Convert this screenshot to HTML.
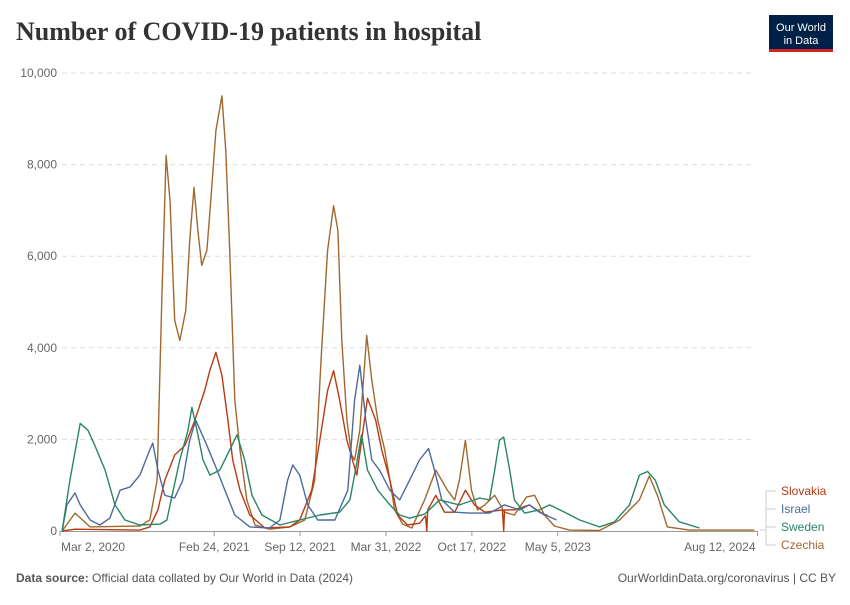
<!DOCTYPE html>
<html><head><meta charset="utf-8"><style>
body{margin:0;background:#fff;width:850px;height:600px;overflow:hidden;font-family:"Liberation Sans",sans-serif}
svg text{font-family:"Liberation Sans",sans-serif}
</style></head><body>
<svg id="c" width="850" height="600">
<text x="16" y="40" font-weight="bold" font-size="26" fill="#333" style="font-family:'Liberation Serif',serif">Number of COVID-19 patients in hospital</text>
<g>
<rect x="769" y="15" width="64" height="37" fill="#002147"/>
<rect x="769" y="49" width="64" height="3" fill="#ce261e"/>
<text x="801" y="31" fill="#fff" font-size="11" text-anchor="middle">Our World</text>
<text x="801" y="44" fill="#fff" font-size="11" text-anchor="middle">in Data</text>
</g>
<g id="grid"></g>
<g id="series"></g>
<g id="legend"></g>
<text x="16" y="582" font-size="12" fill="#555"><tspan font-weight="bold">Data source:</tspan> Official data collated by Our World in Data (2024)</text>
<text x="836" y="582" font-size="12" fill="#555" text-anchor="end">OurWorldinData.org/coronavirus | CC BY</text>
</svg>
<script>
const yTicks=[0,2000,4000,6000,8000,10000];
const yTickLabels=["0","2,000","4,000","6,000","8,000","10,000"];
const xTickDays=[0,359,559,759,959,1159,1624];
const xTickLabels=["Mar 2, 2020","Feb 24, 2021","Sep 12, 2021","Mar 31, 2022","Oct 17, 2022","May 5, 2023","Aug 12, 2024"];
const seriesNames=["Slovakia","Israel","Sweden","Czechia"];
const slovakiaDays=[5,35,186,209,228,244,267,291,314,337,349,363,377,391,402,419,442,477,535,558,586,605,623,637,651,668,691,716,735,749,768,786,809,837,851,854,856,875,895,919,944,965,989,1030,1033,1035,1058,1093,1128,1135];
const slovakiaValues=[0,40,20,90,460,1110,1660,1870,2420,3070,3510,3900,3400,2420,1550,890,350,65,90,240,890,1980,3070,3500,2860,1980,1220,2900,2420,1770,1110,350,130,170,330,0,460,780,410,410,890,570,410,460,0,460,460,570,350,350];
const israelDays=[5,16,35,47,70,93,116,140,163,186,209,216,228,244,267,286,302,316,337,361,384,407,442,488,512,530,542,558,577,600,640,670,686,698,712,726,744,768,791,814,837,858,872,889,919,954,1000,1035,1070,1093,1116,1156];
const israelValues=[0,570,830,570,240,130,280,890,960,1220,1770,1920,1330,780,720,1110,1980,2420,1980,1440,890,350,90,65,240,1110,1440,1220,570,240,240,890,2860,3620,2420,1550,1330,890,680,1110,1550,1800,1330,680,410,390,390,570,460,570,410,240];
const swedenDays=[5,23,47,65,81,105,128,151,186,233,249,261,279,298,307,319,333,349,372,395,412,430,447,470,512,558,605,651,675,688,702,716,740,768,791,814,849,884,930,977,1000,1012,1023,1033,1047,1058,1082,1116,1140,1175,1210,1256,1291,1326,1349,1368,1386,1407,1442,1489];
const swedenValues=[0,1110,2350,2200,1870,1330,570,240,130,150,240,780,1550,2200,2700,2200,1550,1220,1330,1770,2100,1550,780,350,130,240,350,410,680,1330,2100,1330,890,570,350,280,370,680,570,720,680,1330,1980,2050,1330,680,390,460,570,410,240,90,200,570,1220,1300,1110,570,200,65];
const czechiaDays=[5,35,70,186,209,226,237,247,256,267,279,293,302,312,321,330,342,351,363,377,386,395,407,419,435,454,488,535,570,593,609,623,637,647,656,668,679,686,698,714,726,740,756,768,779,798,819,849,875,902,919,930,944,958,972,989,1012,1035,1058,1086,1105,1128,1151,1186,1256,1303,1349,1372,1391,1414,1465,1617];
const czechiaValues=[0,390,90,110,240,1110,5040,8200,7220,4600,4160,4820,6340,7500,6560,5800,6130,7220,8740,9500,8300,6130,2860,1770,680,130,40,90,240,1110,3950,6130,7100,6560,4160,2420,1660,1550,2200,4270,3290,2420,1770,1110,460,150,65,680,1330,890,680,1110,1980,890,460,570,780,410,350,740,780,350,110,20,10,240,680,1200,780,90,20,20];

const NS="http://www.w3.org/2000/svg";
const x0=60,pxPerDay=0.4295,yBase=531,pxPerUnit=0.0458;
const xs=d=>x0+d*pxPerDay, ys=v=>yBase-v*pxPerUnit;
function mk(t,a,p){const e=document.createElementNS(NS,t);for(const k in a)e.setAttribute(k,a[k]);p.appendChild(e);return e;}
const grid=document.getElementById('grid');
yTicks.forEach((v,i)=>{
  if(v>0){const l=mk('line',{x1:62,x2:755,y1:ys(v),y2:ys(v),stroke:'#ddd','stroke-dasharray':'5,4'},grid);
  
  }
  const t=mk('text',{x:57,y:ys(v)+4,'font-size':12,fill:'#666','text-anchor':'end'},grid);t.textContent=yTickLabels[i];
  
  
});
const ax=mk('line',{x1:60,x2:757,y1:531.5,y2:531.5,stroke:'#999'},grid);


xTickDays.forEach((d,i)=>{
  const x=xs(d);mk('line',{x1:x,x2:x,y1:531,y2:536,stroke:'#999'},grid);
  let anchor='middle',tx=x;if(i===0){anchor='start';tx=x+1;}if(i===xTickDays.length-1){anchor='end';tx=x-2;}
  const t=mk('text',{x:tx,y:551,'font-size':12,fill:'#666','text-anchor':anchor},grid);t.textContent=xTickLabels[i];
  
  
});
const colors=["#b83a12","#4c6a9c","#2a8466","#a0682f"];
const allDays=[slovakiaDays,israelDays,swedenDays,czechiaDays];
const allVals=[slovakiaValues,israelValues,swedenValues,czechiaValues];
const sg=document.getElementById('series');
[3,0,1,2].forEach(i=>{
  const pts=allDays[i].map((d,j)=>xs(d).toFixed(1)+','+ys(allVals[i][j]).toFixed(1)).join(' ');
  const p=mk('polyline',{points:pts,fill:'none',stroke:colors[i],'stroke-width':1.4,'stroke-linejoin':'round'},sg);
  
  
});
const lg=document.getElementById('legend');
const ly=[491,509,527,545];
const ey=[530,530,530,530];
seriesNames.forEach((n,i)=>{
  const t=mk('text',{x:781,y:ly[i]+4,'font-size':12,fill:colors[i]},lg);t.textContent=n;
  
  
  mk('path',{d:`M760 ${ey[i]} H766 V${ly[i]} H776`,fill:'none',stroke:'#ccc'},lg);
});
</script>
</body></html>
